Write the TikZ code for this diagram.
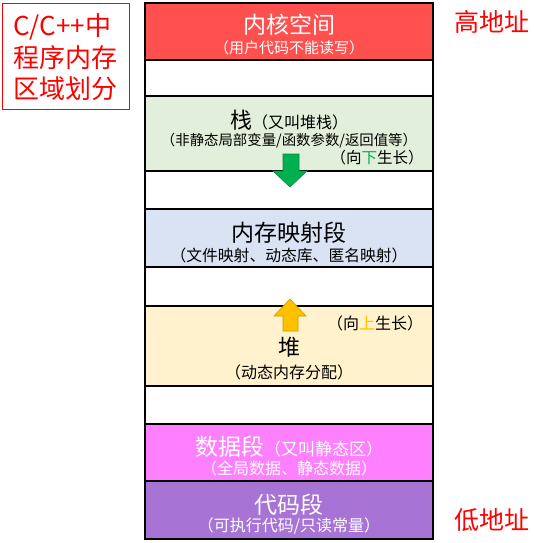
\documentclass[tikz,border=0pt]{standalone}
\usepackage{fontspec}
\setmainfont{Noto Sans CJK SC}
\definecolor{kred}{HTML}{FF5050}
\definecolor{kgreen}{HTML}{E2EFDA}
\definecolor{kblue}{HTML}{DAE3F3}
\definecolor{kyellow}{HTML}{FFF2CC}
\definecolor{kpink}{HTML}{FF80FF}
\definecolor{kpurple}{HTML}{A774D6}
\definecolor{arrowgreen}{HTML}{00B050}
\definecolor{arroworange}{HTML}{FFC000}
\newcommand{\fsz}[1]{\fontsize{#1}{#1}\selectfont}
\begin{document}
\begin{tikzpicture}[x=1pt,y=-1pt,
  seg/.style={draw=black,line width=1.1pt,minimum width=288pt,inner sep=0pt,outer sep=0pt},
  big/.style={font=\fsz{23}},
  sub/.style={font=\fsz{15}},
  addr/.style={text=red,font=\fsz{25}},
  growarrow/.style={line width=0.6pt}
]
\useasboundingbox (0,0) rectangle (534,543);
\fill[white] (0,0) rectangle (534,543);
% segments
\node[seg,fill=kred,minimum height=57pt] (kernel) at (289,31.5) {};
\node[seg,fill=white,minimum height=36pt] (gapA) at (289,78) {};
\node[seg,fill=kgreen,minimum height=75pt] (stack) at (289,133.5) {};
\node[seg,fill=white,minimum height=38pt] (gapB) at (289,190) {};
\node[seg,fill=kblue,minimum height=58pt] (mmap) at (289,238) {};
\node[seg,fill=white,minimum height=39pt] (gapC) at (289,286.5) {};
\node[seg,fill=kyellow,minimum height=80pt] (heap) at (289,346) {};
\node[seg,fill=white,minimum height=38pt] (gapD) at (289,405) {};
\node[seg,fill=kpink,minimum height=57pt] (data) at (289,452.5) {};
\node[seg,fill=kpurple,minimum height=58pt] (code) at (289,510) {};
% arrows
\draw[growarrow,fill=arrowgreen,draw=arrowgreen!80!black]
  (283,154) -- (299,154) -- (299,171) -- (307,171) -- (290,187) -- (273,171) -- (283,171) -- cycle;
\draw[growarrow,fill=arroworange,draw=arroworange!80!black]
  (283,331) -- (298,331) -- (298,316) -- (306,316) -- (290,299) -- (274,316) -- (283,316) -- cycle;
% texts
\node[big,text=white] (kernelT) at (289,25) {内核空间};
\node[sub,text=white] (kernelS) at (289,48) {（用户代码不能读写）};
\node (stackT) at (289,120) {\fsz{22}栈{\fsz{16}（又叫堆栈）}};
\node[font=\fsz{14.4}] (stackS) at (289,141) {（非静态局部变量/函数参数/返回值等）};
\node[font=\fsz{15.5}] (stackG) at (377,158) {（向\textcolor{arrowgreen}{下}生长）};
\node[big] (mmapT) at (289,233) {内存映射段};
\node[font=\fsz{15.8}] (mmapS) at (289,255) {（文件映射、动态库、匿名映射）};
\node[font=\fsz{16}] (heapG) at (375,323) {（向\textcolor{arroworange}{上}生长）};
\node[font=\fsz{22}] (heapT) at (289,347) {堆};
\node[font=\fsz{16}] (heapS) at (289,372) {（动态内存分配）};
\node[text=white] (dataT) at (289,447) {\fsz{23}数据段{\fsz{17}（又叫静态区）}};
\node[font=\fsz{16},text=white] (dataS) at (289,468) {（全局数据、静态数据）};
\node[big,text=white] (codeT) at (289,505) {代码段};
\node[font=\fsz{16},text=white] (codeS) at (289,526) {（可执行代码/只读常量）};
% side labels
\node[addr] (high) at (492,22) {高地址};
\node[addr] (low) at (492,520) {低地址};
\node[draw=red,line width=0.9pt,minimum width=127pt,minimum height=106pt,inner sep=0pt] (titlebox) at (65.5,56) {};
\node[text=red,align=left,anchor=west,font=\fontsize{26}{31.5}\selectfont,inner sep=0pt] (title) at (13,57.5) {C/C++中\\程序内存\\区域划分};
\end{tikzpicture}
\end{document}
